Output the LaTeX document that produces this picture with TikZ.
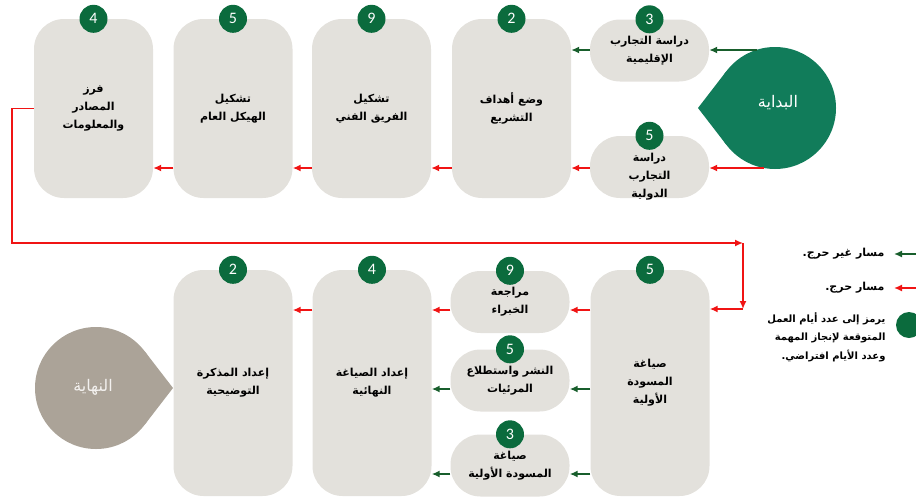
\documentclass[tikz,border=0pt]{standalone}
\usepackage{fontspec}
\setmainfont{Carlito}
\newfontfamily\arabicfont[Script=Arabic]{DejaVu Sans}
\TeXXeTstate=1
\usetikzlibrary{arrows.meta,positioning,calc}
\definecolor{boxgrey}{RGB}{227,225,220}
\definecolor{badgegreen}{RGB}{11,107,61}
\definecolor{startgreen}{RGB}{17,124,90}
\definecolor{endgrey}{RGB}{171,163,152}
\definecolor{pathgreen}{RGB}{24,94,44}
\definecolor{pathred}{RGB}{240,20,20}
\newcommand{\artxt}[1]{\beginR #1\endR}
\newcommand{\boxfont}{\arabicfont\bfseries\fontsize{11}{18}\selectfont}

\begin{document}
\begin{tikzpicture}[x=1pt,y=-1pt,
    bigbox/.style={rectangle,rounded corners=30pt,fill=boxgrey,minimum width=119pt,minimum height=179pt,align=center,font=\boxfont},
    smallbox/.style={bigbox,minimum height=62pt},
    tallbox/.style={bigbox,minimum height=226pt},
    badge/.style={circle,fill=badgegreen,text=white,minimum size=28pt,inner sep=0pt,font=\fontsize{16}{16}\selectfont},
    crit/.style={draw=pathred,line width=1.5pt,-{Latex[length=8pt,width=7pt]}},
    noncrit/.style={crit,draw=pathgreen}]
    \useasboundingbox (0,0) rectangle (916,499);

    % Start shape
    \fill[startgreen] (775,108) circle[radius=61pt];
    \fill[startgreen] (698,108) -- (726.7,70.8) -- (726.7,145.2) -- cycle;
    \node[text=white,font=\arabicfont\fontsize{16}{16}\selectfont] (start) at (778,103) {\artxt{البداية}};

    % Top row
    \node[bigbox] (fz) at (93.5,108.5) {\artxt{فرز}\\\artxt{المصادر}\\\artxt{والمعلومات}};
    \node[bigbox] (hk) at (233,108.5) {\artxt{تشكيل}\\\artxt{الهيكل العام}};
    \node[bigbox] (tf) at (371.5,108.5) {\artxt{تشكيل}\\\artxt{الفريق الفني}};
    \node[bigbox] (wd) at (511.5,108.5) {\artxt{وضع أهداف}\\\artxt{التشريع}};
    \node[smallbox] (sr) at (649.5,50.5) {\artxt{دراسة التجارب}\\\artxt{الإقليمية}};
    \node[smallbox] (sd) at (649.5,167) {};
    \node[align=center,font=\boxfont] (sdt) at (649.5,177) {\artxt{دراسة}\\\artxt{التجارب}\\\artxt{الدولية}};

    % Bottom row
    \node[tallbox] (mt) at (233,383) {\artxt{إعداد المذكرة}\\\artxt{التوضيحية}};
    \node[tallbox] (fs) at (372,383) {\artxt{إعداد الصياغة}\\\artxt{النهائية}};
    \node[smallbox] (mr) at (510,302) {\artxt{مراجعة}\\\artxt{الخبراء}};
    \node[smallbox] (ns) at (510,380.5) {\artxt{النشر واستطلاع}\\\artxt{المرئيات}};
    \node[smallbox] (sa) at (510,465.5) {\artxt{صياغة}\\\artxt{المسودة الأولية}};
    \node[tallbox] (sm) at (650,383) {\artxt{صياغة}\\\artxt{المسودة}\\\artxt{الأولية}};

    % Days
    \foreach \b/\n in {fz/4,hk/5,tf/9,wd/2,sr/3,sd/5,mt/2,fs/4,mr/9,ns/5,sa/3,sm/5}
        \node[badge] (\b-d) at (\b.north) {\n};

    % Top arrows
    \coordinate (s1) at (757,50);
    \coordinate (s2) at (764,168);
    \draw[noncrit] (s1) -- (sr.east |- s1);
    \draw[crit] (s2) -- (sd.east |- s2);
    \draw[noncrit] (sr.west |- s1) -- (wd.east |- s1);
    \draw[crit] (sd.west |- s2) -- (wd.east |- s2);
    \draw[crit] (wd.west |- s2) -- (tf.east |- s2);
    \draw[crit] (tf.west |- s2) -- (hk.east |- s2);
    \draw[crit] (hk.west |- s2) -- (fz.east |- s2);

    % Loop to the second row
    \coordinate (l1) at (12,108);
    \coordinate (l2) at (12,243);
    \coordinate (l3) at (743,243);
    \coordinate (l4) at (743,309);
    \draw[crit] (fz.west) -- (fz.west -| l1) -- (l2) -- (l3);
    \draw[crit] (l3) -- (l4);
    \draw[crit] (l4) -- (sm.east |- l4);

    % Bottom arrows
    \coordinate (b1) at (0,310);
    \coordinate (b2) at (0,389);
    \coordinate (b3) at (0,474);
    \draw[crit] (sm.west |- b1) -- (mr.east |- b1);
    \draw[crit] (mr.west |- b1) -- (fs.east |- b1);
    \draw[crit] (fs.west |- b1) -- (mt.east |- b1);
    \draw[noncrit] (sm.west |- b2) -- (ns.east |- b2);
    \draw[noncrit] (ns.west |- b2) -- (fs.east |- b2);
    \draw[noncrit] (sm.west |- b3) -- (sa.east |- b3);
    \draw[noncrit] (sa.west |- b3) -- (fs.east |- b3);

    % End shape
    \fill[endgrey] (96,388) circle[radius=61pt];
    \fill[endgrey] (173,388) -- (144.3,350.8) -- (144.3,425.2) -- cycle;
    \node[text=white!85!endgrey,font=\arabicfont\fontsize{16}{16}\selectfont] (end) at (93,387) {\artxt{النهاية}};

    % Legend
    \node[anchor=east,font=\boxfont] (lg1) at (888,254) {\artxt{مسار غير حرج.}};
    \node[anchor=east,font=\boxfont] (lg2) at (888,288) {\artxt{مسار حرج.}};
    \node[circle,fill=badgegreen,minimum size=26pt,inner sep=0pt] (lgc) at (909,325) {};
    \node[anchor=east,align=right,font=\arabicfont\bfseries\fontsize{10}{18.5}\selectfont] (lg3) at (889,337)
        {\artxt{يرمز إلى عدد أيام العمل}\\\artxt{المتوقعة لإنجاز المهمة}\\\artxt{وعدد الأيام افتراضي.}};
    \coordinate (g1) at (916,254);
    \coordinate (g2) at (916,288);
    \draw[noncrit] (g1) -- ([xshift=6pt]lg1.east);
    \draw[crit] (g2) -- ([xshift=6pt]lg2.east);
\end{tikzpicture}
\end{document}
